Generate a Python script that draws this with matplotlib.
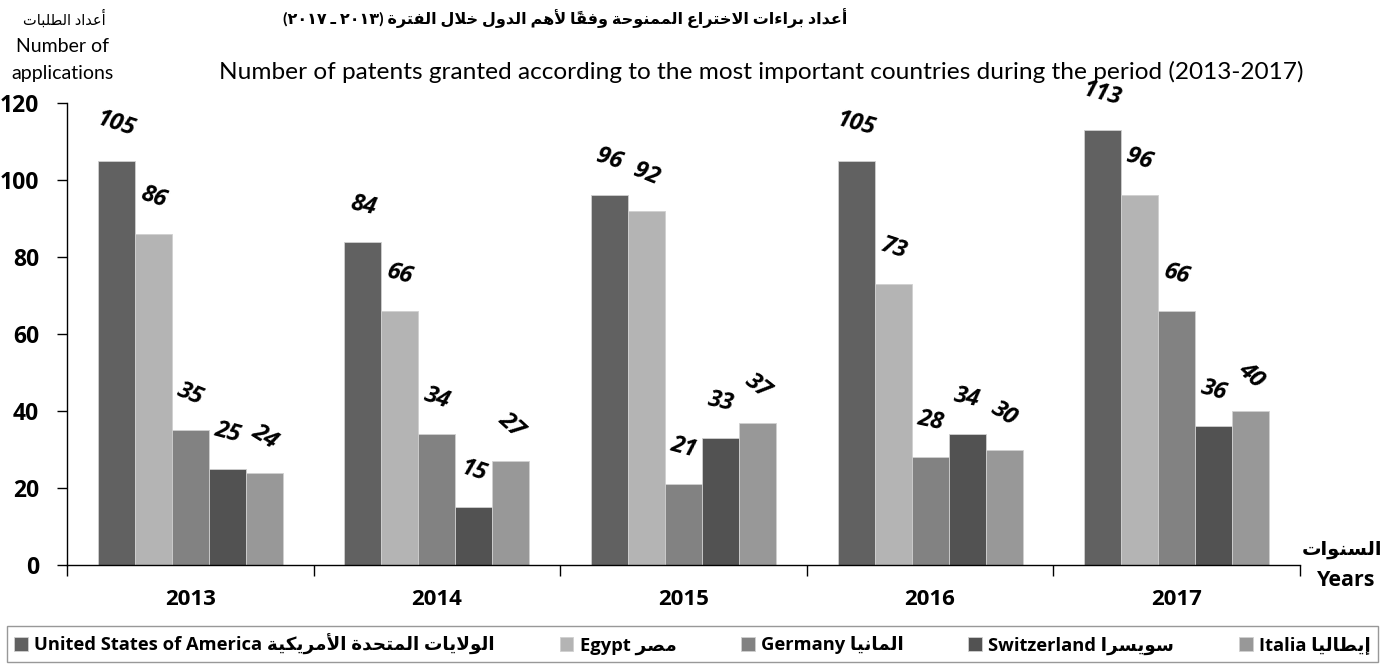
import numpy as np
import matplotlib
matplotlib.use("Agg")
from matplotlib import pyplot as plt

plt.rcParams['font.family'] = ['Lato', 'DejaVu Sans']
BOLD = ['Open Sans', 'DejaVu Sans']

# ---- data ----
years = ['2013', '2014', '2015', '2016', '2017']
usa = [105, 84, 96, 105, 113]
egypt = [86, 66, 92, 73, 96]
germany = [35, 34, 21, 28, 66]
switzerland = [25, 15, 33, 34, 36]
italia = [24, 27, 37, 30, 40]

names_en = ['United States of America', 'Egypt', 'Germany', 'Switzerland', 'Italia']
names_ar = ['الولايات المتحدة الأمريكية', 'مصر', 'المانيا', 'سويسرا', 'إيطاليا']
colors = ['#616161', '#b4b4b4', '#828282', '#525252', '#989898']

# label tilt as in the original (degrees, per series and year)
angles = [[-18, -12, -18, -15, -15],
          [-18, -15, -22, -18, -18],
          [-22, -18, -15, -12, -15],
          [-15, -18, -12, -12, -15],
          [-32, -42, -38, -32, -42]]

# ---- minimal arabic shaping (no reshaper available) ----
AR_FORMS = {
    0x0621: (0xFE80, 1), 0x0622: (0xFE81, 2), 0x0623: (0xFE83, 2), 0x0624: (0xFE85, 2),
    0x0625: (0xFE87, 2), 0x0626: (0xFE89, 4), 0x0627: (0xFE8D, 2), 0x0628: (0xFE8F, 4),
    0x0629: (0xFE93, 2), 0x062A: (0xFE95, 4), 0x062B: (0xFE99, 4), 0x062C: (0xFE9D, 4),
    0x062D: (0xFEA1, 4), 0x062E: (0xFEA5, 4), 0x062F: (0xFEA9, 2), 0x0630: (0xFEAB, 2),
    0x0631: (0xFEAD, 2), 0x0632: (0xFEAF, 2), 0x0633: (0xFEB1, 4), 0x0634: (0xFEB5, 4),
    0x0635: (0xFEB9, 4), 0x0636: (0xFEBD, 4), 0x0637: (0xFEC1, 4), 0x0638: (0xFEC5, 4),
    0x0639: (0xFEC9, 4), 0x063A: (0xFECD, 4), 0x0641: (0xFED1, 4), 0x0642: (0xFED5, 4),
    0x0643: (0xFED9, 4), 0x0644: (0xFEDD, 4), 0x0645: (0xFEE1, 4), 0x0646: (0xFEE5, 4),
    0x0647: (0xFEE9, 4), 0x0648: (0xFEED, 2), 0x0649: (0xFEEF, 2), 0x064A: (0xFEF1, 4),
}
LAM_ALEF = {0x0622: 0xFEF5, 0x0623: 0xFEF7, 0x0625: 0xFEF9, 0x0627: 0xFEFB}


def is_mark(c):
    return 0x064B <= ord(c) <= 0x0652


def is_digit(c):
    return c.isdigit()


def ar(text):
    # clusters: [base, marks, jointype, kind]
    cl = []
    for c in text:
        if is_mark(c) and cl:
            cl[-1][1] += c
        else:
            jt = 4 if ord(c) == 0x0640 else AR_FORMS.get(ord(c), (0, 0))[1]
            cl.append([c, '', jt, 'ch'])
    # lam-alef ligatures
    merged = []
    for item in cl:
        if merged and merged[-1][0] == '\u0644' and merged[-1][3] == 'ch' and ord(item[0]) in LAM_ALEF:
            merged[-1] = [item[0], merged[-1][1] + item[1], 2, 'la']
        else:
            merged.append(item)
    cl = merged
    glyphs = []
    for i, (b, m, jt, kind) in enumerate(cl):
        jp = i > 0 and cl[i - 1][2] == 4 and jt in (2, 4)
        jn = jt == 4 and i + 1 < len(cl) and cl[i + 1][2] in (2, 4)
        if kind == 'la':
            g = chr(LAM_ALEF[ord(b)] + (1 if jp else 0))
        elif ord(b) in AR_FORMS:
            base, nf = AR_FORMS[ord(b)]
            if nf == 4:
                off = 3 if (jp and jn) else 1 if jp else 2 if jn else 0
            elif nf == 2:
                off = 1 if jp else 0
            else:
                off = 0
            g = chr(base + off)
        else:
            g = b
        glyphs.append(g + m)
    # visual order: reverse, keeping digit runs left-to-right
    tokens = []
    for g in glyphs:
        if is_digit(g[0]) and tokens and is_digit(tokens[-1][0]):
            tokens[-1] += g
        else:
            tokens.append(g)
    mirror = {'(': ')', ')': '('}
    return ''.join(mirror.get(t, t) for t in reversed(tokens))


# ---- figure ----
W, H = 1386, 668
fig = plt.figure(figsize=(W / 100, H / 100), dpi=100)
ax = fig.add_axes([67 / W, 1 - 565 / H, (1300 - 67) / W, (565 - 103) / H])

series = [usa, egypt, germany, switzerland, italia]
x = np.arange(len(years))
bw = 0.15
for k, vals in enumerate(series):
    pos = x + (k - 2) * bw
    ax.bar(pos, vals, bw, color=colors[k], edgecolor='#d0d0d0', linewidth=0.6,
           label=names_en[k] + ' ' + ar(names_ar[k]))
    for j, v in enumerate(vals):
        ax.annotate(str(v), (pos[j], v), xytext=(0, 26), textcoords='offset points',
                    ha='center', va='center', rotation=angles[k][j], rotation_mode='anchor',
                    fontsize=17, fontweight='bold', fontstyle='italic', family=BOLD)

ax.set_xlim(-0.5, 4.5)
ax.set_ylim(0, 120)
yt = list(range(0, 121, 20))
ax.set_yticks(yt)
ax.set_yticklabels([str(v) for v in yt], fontsize=16.5, fontweight='bold', family=BOLD)
ax.set_xticks(x)
ax.set_xticklabels(years, fontsize=16, fontweight='bold', family=BOLD)
ax.set_xticks(np.arange(-0.5, 5.0, 1.0), minor=True)
ax.tick_params(axis='x', which='major', length=0, pad=17)
ax.tick_params(axis='x', which='minor', length=8, width=1, direction='out')
ax.tick_params(axis='y', length=7, width=1, direction='out', pad=13)
for s in ['top', 'right']:
    ax.spines[s].set_visible(False)
for s in ['left', 'bottom']:
    ax.spines[s].set_linewidth(1)

# ---- texts ----
def ftext(px, py, s, **kw):
    fig.text(px / W, 1 - py / H, s, ha='center', va='center', **kw)

ftext(565, 18, ar('أعداد براءات الاختراع الممنوحة وفقاً لأهم الدول خلال الفترة (٢٠١٣ ـ ٢٠١٧)'),
      fontsize=11.5, fontweight='bold')
ftext(761, 72, 'Number of patents granted according to the most important countries during the period (2013-2017)',
      fontsize=17.6)
ftext(64, 19, ar('أعداد الطلبات'), fontsize=10.5)
ftext(62, 46, 'Number of', fontsize=14)
ftext(62, 74, 'applications', fontsize=14)
ftext(1342, 550, ar('السنوات'), fontsize=14, fontweight='bold')
ftext(1346, 581, 'Years', fontsize=15.5, fontweight='bold', family=BOLD)

leg = fig.legend(loc='lower left', bbox_to_anchor=(7 / W, 1 - 662 / H, (1378 - 7) / W, 40 / H),
                 mode='expand', ncol=5, frameon=True, fancybox=False, edgecolor='#7f7f7f',
                 handlelength=0.75, handleheight=0.75, handletextpad=0.35, borderaxespad=0,
                 prop={'weight': 'bold', 'size': 13.2, 'family': BOLD})
leg.get_frame().set_linewidth(1)

fig.savefig('out.png', dpi=100)
